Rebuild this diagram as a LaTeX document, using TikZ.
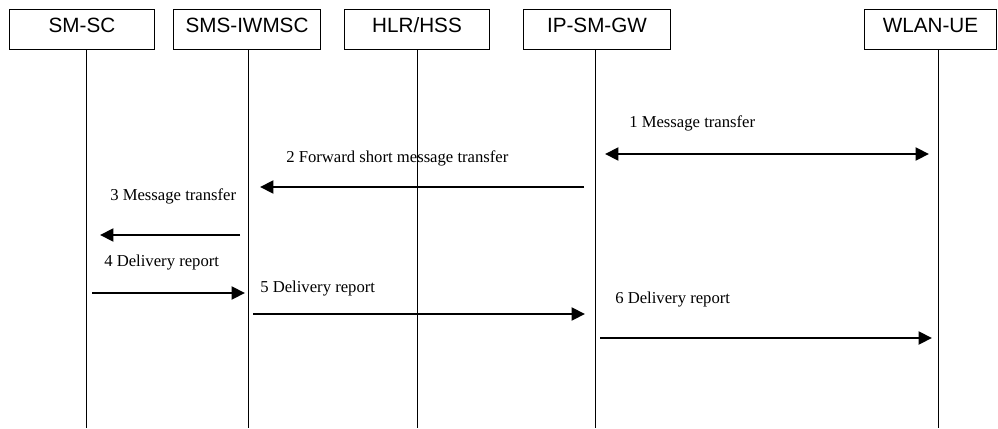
\documentclass[tikz,border=0pt]{standalone}
\usepackage{fontspec}
\setmainfont{Liberation Serif}
\newfontfamily\arialfont{Liberation Sans}
\usetikzlibrary{arrows.meta}
\begin{document}
\begin{tikzpicture}[x=0.75pt,y=-0.75pt,
  entity/.style={draw,line width=0.75pt,anchor=north west,inner sep=0pt,
    minimum height=30pt,font=\arialfont\fontsize{15.5}{18}\selectfont,text height=12pt,text depth=7pt},
  life/.style={line width=0.75pt},
  msg/.style={line width=2.2pt,-{Triangle[length=10pt,width=9.5pt]}},
  dmsg/.style={line width=2.2pt,{Triangle[length=10pt,width=9.5pt]}-{Triangle[length=10pt,width=9.5pt]}},
  lbl/.style={anchor=base west,inner sep=0pt,font=\fontsize{12.5}{15}\selectfont}]
\useasboundingbox (0,0) rectangle (998,428);
% entities
\node[entity,minimum width=108.75pt] (smsc) at (9,9) {SM-SC};
\node[entity,minimum width=110.25pt] (iwmsc) at (173,9) {SMS-IWMSC};
\node[entity,minimum width=108.75pt] (hlr) at (344,9) {HLR/HSS};
\node[entity,minimum width=110.25pt] (ipsmgw) at (523,9) {IP-SM-GW};
\node[entity,minimum width=99pt] (ue) at (864,9) {WLAN-UE};
% lifeline ends
\coordinate (b1) at (86,428);
\coordinate (b2) at (248,428);
\coordinate (b3) at (417,428);
\coordinate (b4) at (595,428);
\coordinate (b5) at (938,428);
\draw[life] (smsc.south -| b1) -- (b1);
\draw[life] (iwmsc.south -| b2) -- (b2);
\draw[life] (hlr.south -| b3) -- (b3);
\draw[life] (ipsmgw.south -| b4) -- (b4);
\draw[life] (ue.south -| b5) -- (b5);
% message end points
\coordinate (m1a) at (605,154); \coordinate (m1b) at (929,154);
\coordinate (m2a) at (584,187); \coordinate (m2b) at (260,187);
\coordinate (m3a) at (240,235); \coordinate (m3b) at (100,235);
\coordinate (m4a) at (92,293);  \coordinate (m4b) at (245,293);
\coordinate (m5a) at (253,314); \coordinate (m5b) at (585,314);
\coordinate (m6a) at (600,338); \coordinate (m6b) at (932,338);
% messages
\draw[dmsg] (m1a) -- (m1b);
\draw[msg] (m2a) -- (m2b);
\draw[msg] (m3a) -- (m3b);
\draw[msg] (m4a) -- (m4b);
\draw[msg] (m5a) -- (m5b);
\draw[msg] (m6a) -- (m6b);
% labels
\node[lbl] (l1) at (629,127) {1 Message transfer};
\node[lbl] (l2) at (286,162) {2 Forward short message transfer};
\node[lbl] (l3) at (110,200) {3 Message transfer};
\node[lbl] (l4) at (104,266) {4 Delivery report};
\node[lbl] (l5) at (260,292) {5 Delivery report};
\node[lbl] (l6) at (615,303) {6 Delivery report};
\end{tikzpicture}
\end{document}
